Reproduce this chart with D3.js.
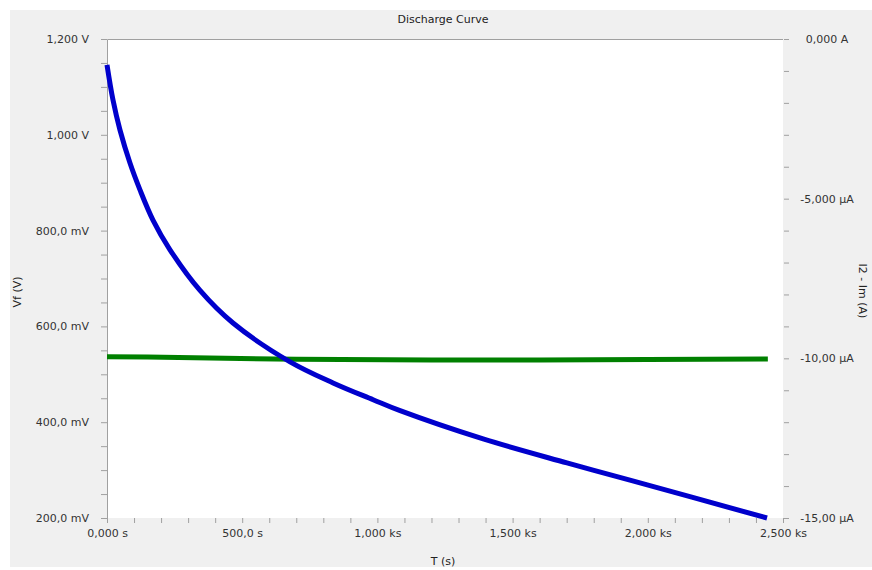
<!DOCTYPE html>
<html>
<head>
<meta charset="utf-8">
<script src="https://cdn.jsdelivr.net/npm/d3@7"></script>
<style>
  body { margin: 0; background: #fff; }
  svg { display: block; font-family: "DejaVu Sans", sans-serif; }
</style>
</head>
<body>
<svg></svg>
<script>
// Vf discharge curve (seconds, volts)
const timeS = [0, 22, 48, 85, 122, 170, 233, 344, 466, 677, 836, 984, 1084, 1391, 1701, 1934, 2441];
const vf = [1.146, 1.073, 1.010, 0.941, 0.885, 0.822, 0.760, 0.675, 0.607, 0.526, 0.482, 0.447, 0.424, 0.365, 0.315, 0.279, 0.200];

// I2 - Im current (seconds, microamps)
const currentTime = [0, 150, 380, 700, 1200, 1600, 2000, 2444];
const currentUA = [-9.95, -9.96, -9.99, -10.03, -10.05, -10.05, -10.04, -10.02];

const xTicks = [0, 500, 1000, 1500, 2000, 2500];
const xTickLabels = ["0,000 s", "500,0 s", "1,000 ks", "1,500 ks", "2,000 ks", "2,500 ks"];
const leftTicks = [0.2, 0.4, 0.6, 0.8, 1.0, 1.2];
const leftTickLabels = ["200,0 mV", "400,0 mV", "600,0 mV", "800,0 mV", "1,000 V", "1,200 V"];
const rightTicks = [0, -5, -10, -15];
const rightTickLabels = ["0,000 A", "-5,000 µA", "-10,00 µA", "-15,00 µA"];

const width = 872;
const height = 570;
const plot = { left: 107, right: 783, top: 39, bottom: 518 };

const svg = d3.select("svg").attr("width", width).attr("height", height);

svg.append("rect")
  .attr("x", 10).attr("y", 10)
  .attr("width", width - 10).attr("height", 557)
  .attr("fill", "#f0f0f0");

svg.append("rect")
  .attr("x", plot.left).attr("y", plot.top)
  .attr("width", plot.right - plot.left).attr("height", plot.bottom - plot.top)
  .attr("fill", "#fff");

const x = d3.scaleLinear().domain([0, 2500]).range([plot.left, plot.right]);
const yLeft = d3.scaleLinear().domain([0.2, 1.2]).range([plot.bottom, plot.top]);
const yRight = d3.scaleLinear().domain([-15, 0]).range([plot.bottom, plot.top]);

// frame: top and left edges
svg.append("path")
  .attr("d", `M${plot.left + 0.5},${plot.bottom}V${plot.top + 0.5}H${plot.right}`)
  .attr("fill", "none")
  .attr("stroke", "#a0a0a0");

const styleAxis = (g) => {
  g.select(".domain").remove();
  g.selectAll(".tick line").attr("stroke", "#a0a0a0");
  g.selectAll(".tick text")
    .attr("fill", "#333")
    .attr("font-size", "11px")
    .attr("font-family", "DejaVu Sans, sans-serif");
};

const labelFor = (ticks, labels) => (d) => {
  const i = ticks.findIndex((t) => Math.abs(t - d) < 1e-9);
  return i >= 0 ? labels[i] : "";
};

// x axis: minor ticks every 100 s
svg.append("g")
  .attr("transform", `translate(0, ${plot.bottom})`)
  .call(d3.axisBottom(x)
    .tickValues(d3.range(0, 2501, 100))
    .tickSize(5)
    .tickPadding(6)
    .tickFormat(labelFor(xTicks, xTickLabels)))
  .call(styleAxis);

// left axis: minor ticks every 50 mV
svg.append("g")
  .attr("transform", `translate(${plot.left}, 0)`)
  .call(d3.axisLeft(yLeft)
    .tickValues(d3.range(0, 21).map((i) => 0.2 + i * 0.05))
    .tickSize(6)
    .tickPadding(12)
    .tickFormat(labelFor(leftTicks, leftTickLabels)))
  .call(styleAxis);

// right axis: minor ticks every 1 µA
const rightAxis = svg.append("g")
  .attr("transform", `translate(${plot.right}, 0)`)
  .call(d3.axisRight(yRight)
    .tickValues(d3.range(0, 16).map((i) => -i))
    .tickSize(6)
    .tickFormat(labelFor(rightTicks, rightTickLabels)))
  .call(styleAxis);
rightAxis.selectAll(".tick line").attr("x1", 1).attr("x2", 6);
rightAxis.selectAll(".tick text").attr("x", 44).attr("text-anchor", "middle");

// series
svg.append("path")
  .datum(currentTime.map((t, i) => [t, currentUA[i]]))
  .attr("fill", "none")
  .attr("stroke", "#008000")
  .attr("stroke-width", 5)
  .attr("d", d3.line().x((d) => x(d[0])).y((d) => yRight(d[1])));

svg.append("path")
  .datum(timeS.map((t, i) => [t, vf[i]]))
  .attr("fill", "none")
  .attr("stroke", "#0000cc")
  .attr("stroke-width", 5)
  .attr("d", d3.line().curve(d3.curveCatmullRom.alpha(0.5)).x((d) => x(d[0])).y((d) => yLeft(d[1])));

// titles
svg.append("text")
  .attr("x", 443).attr("y", 23)
  .attr("text-anchor", "middle")
  .attr("font-size", "11px")
  .attr("fill", "#222")
  .text("Discharge Curve");

svg.append("text")
  .attr("x", 443).attr("y", 565)
  .attr("text-anchor", "middle")
  .attr("font-size", "11px")
  .attr("fill", "#222")
  .text("T (s)");

svg.append("text")
  .attr("transform", "translate(21, 292) rotate(-90)")
  .attr("text-anchor", "middle")
  .attr("font-size", "11px")
  .attr("fill", "#222")
  .text("Vf (V)");

svg.append("text")
  .attr("transform", "translate(859, 291) rotate(90)")
  .attr("text-anchor", "middle")
  .attr("font-size", "11px")
  .attr("fill", "#222")
  .text("I2 - Im (A)");
</script>
</body>
</html>
